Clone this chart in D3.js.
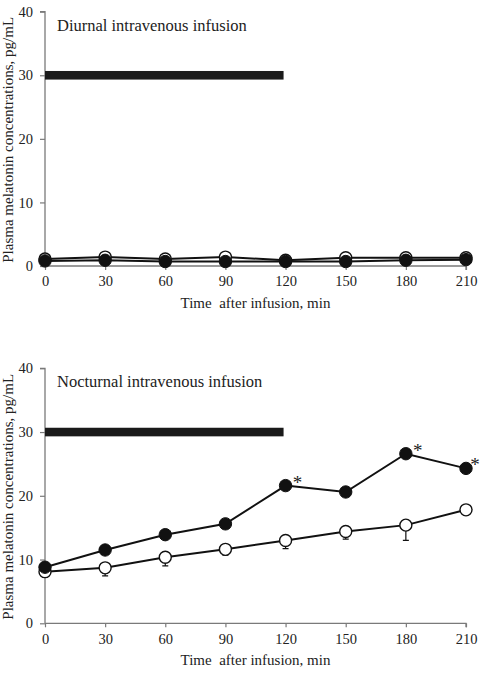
<!DOCTYPE html>
<html>
<head>
<meta charset="utf-8">
<script src="https://cdn.jsdelivr.net/npm/d3@7"></script>
<style>
  html, body { margin: 0; padding: 0; background: #fff; }
  svg text { font-family: 'Liberation Serif', serif; fill: #222; }
</style>
</head>
<body>
<div id="chart"></div>
<script>
// Time points (min) and tick values
const times = [0, 30, 60, 90, 120, 150, 180, 210];
const xTicks = [0, 30, 60, 90, 120, 150, 180, 210];
const yTicks = [0, 10, 20, 30, 40];

// Infusion period bar (min) drawn at 30 pg/mL
const infusion = { from: 0, to: 119, level: 30 };

// Diurnal panel
const dayOpen = [1.1, 1.4, 1.1, 1.4, 0.9, 1.3, 1.3, 1.3];
const dayFilled = [0.8, 0.9, 0.7, 0.7, 0.7, 0.7, 0.9, 1.0];

// Nocturnal panel
const nightFilled = [8.8, 11.5, 13.9, 15.6, 21.6, 20.6, 26.6, 24.3];
const nightFilledErr = [0.4, 0.4, 0.4, 0.4, 0.4, 0.4, 0.4, 0.4];
const nightOpen = [8.1, 8.7, 10.35, 11.6, 13.0, 14.4, 15.4, 17.8];
const nightOpenErr = [0.8, 1.25, 1.35, 0.9, 1.3, 1.2, 2.4, 0.4];
const nightStars = [120, 180, 210];

const W = 481, H = 691;
const svg = d3.select('#chart').append('svg').attr('width', W).attr('height', H);

function panel(top, bottom, title, openV, openE, filledV, filledE, stars) {
  const x = d3.scaleLinear().domain([0, 210]).range([45, 466]);
  const y = d3.scaleLinear().domain([0, 40]).range([bottom, top]);
  const g = svg.append('g');
  const axisColor = '#7a7a7a';

  // axes
  const ya = g.append('g').attr('transform', 'translate(45,0)')
    .call(d3.axisLeft(y).tickValues(yTicks).tickSize(5).tickPadding(7).tickFormat(d3.format('d')));
  const xa = g.append('g').attr('transform', `translate(0,${bottom})`)
    .call(d3.axisBottom(x).tickValues(xTicks).tickSize(4).tickPadding(6).tickFormat(d3.format('d')));
  [ya, xa].forEach(a => {
    a.select('.domain').attr('stroke', axisColor).attr('stroke-width', 1.3);
    a.selectAll('line').attr('stroke', axisColor).attr('stroke-width', 1.2);
    a.selectAll('text').style('font-family', "'Liberation Serif', serif").style('font-size', '14.5px').attr('fill', '#222');
  });
  ya.select('.domain').attr('d', `M-5,${top}H0V${bottom}`);
  xa.select('.domain').attr('d', `M45,0H466V4`);

  // infusion bar
  g.append('rect')
    .attr('x', x(infusion.from)).attr('width', x(infusion.to) - x(infusion.from))
    .attr('y', y(infusion.level) - 4.3).attr('height', 8.6)
    .attr('fill', '#1a1a1a');

  // title
  g.append('text').attr('x', 57).attr('y', top + 19).style('font-size', '16.5px').text(title);

  // axis titles
  g.append('text').attr('x', x(105)).attr('y', bottom + 42).attr('text-anchor', 'middle')
    .style('font-size', '15px').attr('xml:space', 'preserve').text('Time  after infusion, min');
  const cy = (top + bottom) / 2 + 1;
  g.append('text').attr('transform', `translate(13,${cy}) rotate(-90)`).attr('text-anchor', 'middle')
    .style('font-size', '15px').text('Plasma melatonin concentrations, pg/mL');

  const line = d3.line().x((d, i) => x(times[i])).y(d => y(d));

  // open series
  if (openE) {
    g.selectAll(null).data(openV).enter().append('path')
      .attr('d', (d, i) => {
        const px = x(times[i]), y0 = y(d), y1 = y(d - openE[i]);
        return `M${px},${y0}V${y1}M${px - 3},${y1}H${px + 3}`;
      })
      .attr('stroke', '#111').attr('stroke-width', 1.2).attr('fill', 'none');
  }
  g.append('path').datum(openV).attr('d', line).attr('fill', 'none').attr('stroke', '#111').attr('stroke-width', 2);
  g.selectAll(null).data(openV).enter().append('circle')
    .attr('cx', (d, i) => x(times[i])).attr('cy', d => y(d)).attr('r', 6)
    .attr('fill', '#fff').attr('stroke', '#111').attr('stroke-width', 1.4);

  // filled series
  if (filledE) {
    g.selectAll(null).data(filledV).enter().append('path')
      .attr('d', (d, i) => {
        const px = x(times[i]), y0 = y(d), y1 = y(d + filledE[i]);
        return `M${px},${y0}V${y1}M${px - 3},${y1}H${px + 3}`;
      })
      .attr('stroke', '#111').attr('stroke-width', 1.2).attr('fill', 'none');
  }
  g.append('path').datum(filledV).attr('d', line).attr('fill', 'none').attr('stroke', '#111').attr('stroke-width', 2);
  g.selectAll(null).data(filledV).enter().append('circle')
    .attr('cx', (d, i) => x(times[i])).attr('cy', d => y(d)).attr('r', 6.2)
    .attr('fill', '#111').attr('stroke', '#111').attr('stroke-width', 1);

  // significance stars (last one kept inside the frame)
  if (stars) {
    g.selectAll(null).data(stars).enter().append('text')
      .attr('x', t => Math.min(x(t) + 12, W - 6)).attr('y', t => y(filledV[times.indexOf(t)]) + 3)
      .attr('text-anchor', 'middle').style('font-size', '19px')
      .text('*');
  }
}

panel(11.7, 266, 'Diurnal intravenous infusion', dayOpen, null, dayFilled, null, null);
panel(368.3, 623.3, 'Nocturnal intravenous infusion', nightOpen, nightOpenErr, nightFilled, nightFilledErr, nightStars);
</script>
</body>
</html>
